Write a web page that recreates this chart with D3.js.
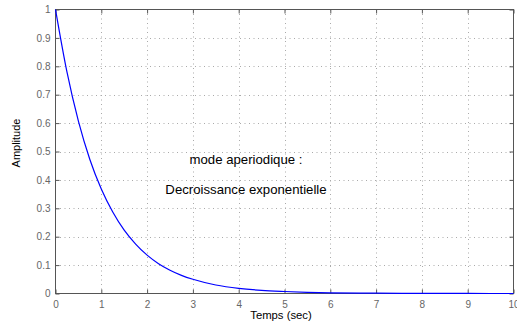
<!DOCTYPE html>
<html><head><meta charset="utf-8">
<script src="https://cdn.jsdelivr.net/npm/d3@7"></script>
<style>body{margin:0;background:#fff}svg{display:block}text{font-family:"Liberation Sans",Arial,sans-serif}</style>
</head><body><svg id="c" width="517" height="326"></svg>
<script>
const times  = [0,0.25,0.5,0.75,1,1.25,1.5,1.75,2,2.25,2.5,2.75,3,3.5,4,4.5,5,5.5,6,7,8,9,10];
const values = [1,0.78,0.607,0.472,0.368,0.287,0.223,0.174,0.135,0.105,0.082,0.064,0.05,0.03,0.018,0.011,0.007,0.004,0.0025,0.001,0.0003,0.0001,0];
const xTicks = [0,1,2,3,4,5,6,7,8,9,10];
const yTicks = [0,0.1,0.2,0.3,0.4,0.5,0.6,0.7,0.8,0.9,1];
const xLabel = "Temps (sec)";
const yLabel = "Amplitude";
const notes = ["mode aperiodique :", "Decroissance exponentielle"];

const svg = d3.select("#c");
const L=55.5, R=513.5, T=9.5, B=293.5;
const x = d3.scaleLinear().domain([0,10]).range([L,R]);
const y = d3.scaleLinear().domain([0,1]).range([B,T]);

// grid
const g = svg.append("g").attr("stroke","#aaa").attr("stroke-width",1).attr("stroke-dasharray","1,3.5");
xTicks.slice(1,-1).forEach(t=>g.append("line").attr("x1",Math.round(x(t))+0.5).attr("x2",Math.round(x(t))+0.5).attr("y1",T).attr("y2",B));
yTicks.slice(1,-1).forEach(t=>g.append("line").attr("y1",Math.round(y(t))+0.5).attr("y2",Math.round(y(t))+0.5).attr("x1",L).attr("x2",R));

// axes
function styleAxis(sel){
  sel.select(".domain").remove();
  sel.selectAll("line").attr("stroke","#555");
  sel.selectAll("text").attr("fill","#666").style("font-size","10px").style("font-family","Liberation Sans, Arial, sans-serif");
}
const fmt = d3.format("~g");
svg.append("g").attr("transform",`translate(0,${B})`).call(d3.axisBottom(x).tickValues(xTicks).tickFormat(fmt).tickSizeInner(-4).tickSizeOuter(0).tickPadding(7)).call(styleAxis);
svg.append("g").attr("transform",`translate(${L},0)`).call(d3.axisLeft(y).tickValues(yTicks).tickFormat(fmt).tickSizeInner(-4).tickSizeOuter(0).tickPadding(5)).call(styleAxis);
svg.append("g").attr("transform",`translate(0,${T})`).call(d3.axisTop(x).tickValues(xTicks).tickFormat("").tickSizeInner(-4).tickSizeOuter(0)).call(styleAxis);
svg.append("g").attr("transform",`translate(${R},0)`).call(d3.axisRight(y).tickValues(yTicks).tickFormat("").tickSizeInner(-4).tickSizeOuter(0)).call(styleAxis);

svg.append("rect").attr("x",L).attr("y",T).attr("width",R-L).attr("height",B-T).attr("fill","none").attr("stroke","#555").attr("stroke-width",1);

// curve
const line = d3.line().x((d,i)=>x(times[i])).y(d=>y(d)).curve(d3.curveMonotoneX);
svg.append("path").datum(values).attr("d",line).attr("fill","none").attr("stroke","#0000ff").attr("stroke-width",1.2);

// labels
svg.append("text").attr("x",281).attr("y",319).attr("text-anchor","middle").style("font-size","11.3px").attr("fill","#000").text(xLabel);
svg.append("text").attr("transform","translate(20,143) rotate(-90)").attr("text-anchor","middle").style("font-size","11px").attr("fill","#000").text(yLabel);
svg.append("text").attr("x",246).attr("y",164).attr("text-anchor","middle").style("font-size","13.2px").attr("fill","#000").text(notes[0]);
svg.append("text").attr("x",246).attr("y",194).attr("text-anchor","middle").style("font-size","13.2px").attr("fill","#000").text(notes[1]);
</script></body></html>
